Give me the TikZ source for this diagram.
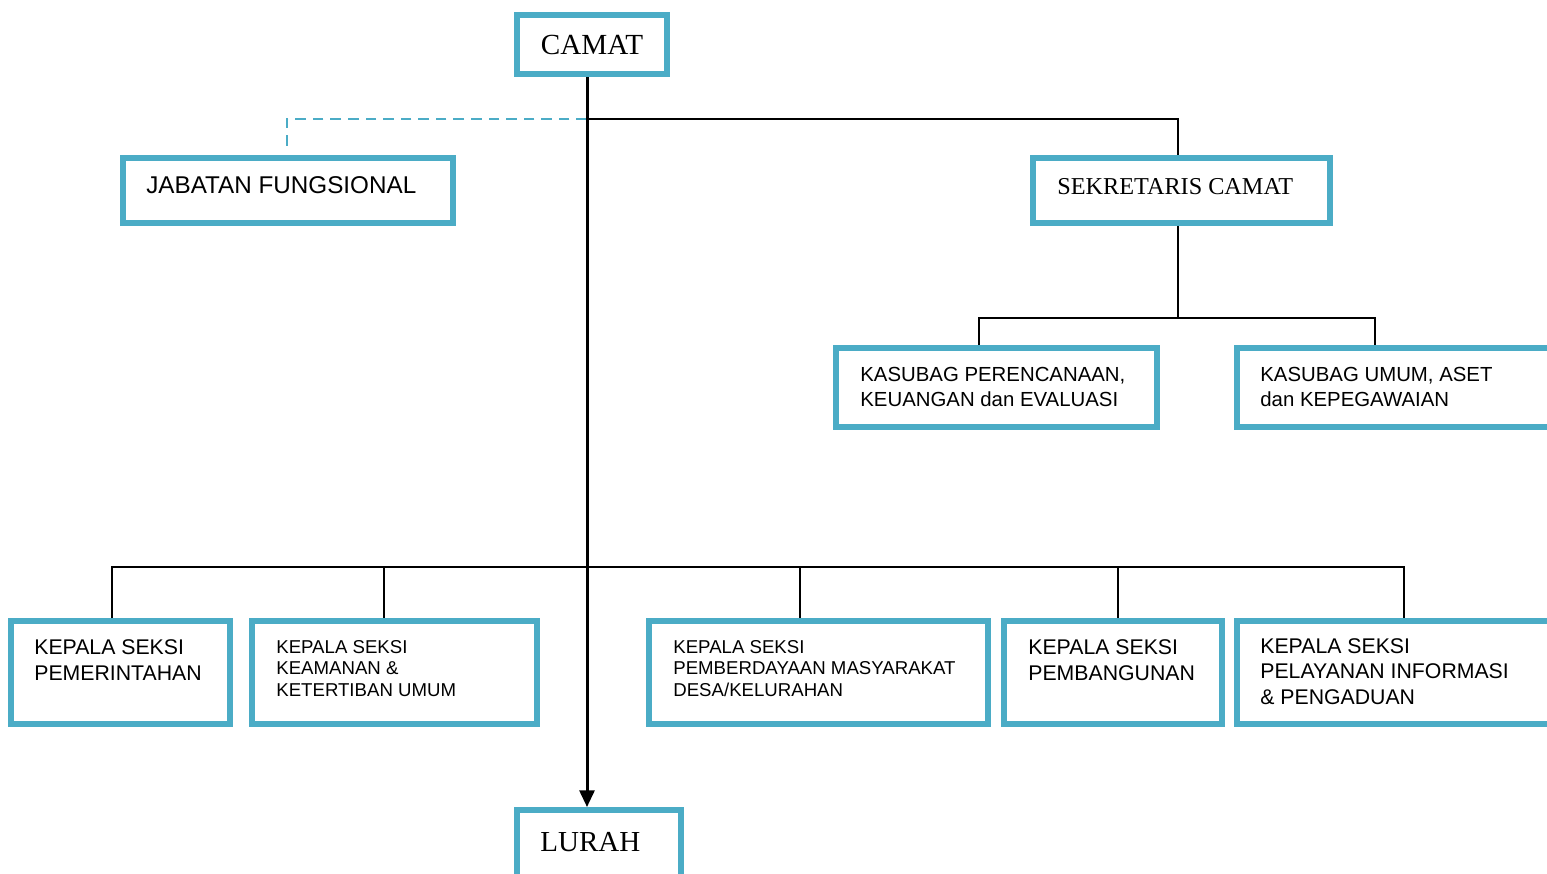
\documentclass[tikz,border=0pt]{standalone}
\usepackage{fontspec}
\setmainfont{Liberation Serif}
\setsansfont{Liberation Sans}
\usetikzlibrary{arrows.meta}
\definecolor{teal}{RGB}{75,172,198}

\begin{document}
\begin{tikzpicture}[x=0.02cm, y=-0.02cm,
	box/.style={draw=teal, line width=3.4pt, fill=white, inner sep=0pt},
	link/.style={line width=1.1pt},
	trunk/.style={line width=1.7pt, -{Triangle[length=9.5pt,width=8.5pt]}},
	dashlink/.style={draw=teal, line width=1.4pt, dash pattern=on 6pt off 4pt},
	mid/.style={font=\sffamily\fontsize{11.6}{13.8}\selectfont, align=left, anchor=base west, inner sep=0pt},
	big/.style={font=\sffamily\fontsize{12.1}{14.4}\selectfont, align=left, anchor=base west, inner sep=0pt},
	small/.style={font=\sffamily\fontsize{10.6}{12.2}\selectfont, align=left, anchor=base west, inner sep=0pt}]

	\clip (0,0) rectangle (1547,873);
	\fill[white] (0,0) rectangle (1547,873);

	\coordinate (j1) at (587,119);
	\coordinate (s1) at (1178,119);
	\coordinate (j2) at (1178,318);
	\coordinate (a1) at (979,318);
	\coordinate (a2) at (1375,318);
	\coordinate (f1) at (287,119);
	\coordinate (f2) at (287,148);
	\coordinate (b1) at (112,567);
	\coordinate (b2) at (384,567);
	\coordinate (b3) at (800,567);
	\coordinate (b4) at (1118,567);
	\coordinate (b5) at (1404,567);

	\node[box, minimum width=3cm, minimum height=1.18cm, font=\fontsize{16.6}{20}\selectfont] (camat) at (592,44.5) {CAMAT};
	\node[box, minimum width=6.6cm, minimum height=1.3cm] (jf) at (288,190.5) {};
	\node[box, minimum width=5.94cm, minimum height=1.3cm] (sek) at (1181.5,190.5) {};
	\node[box, minimum width=6.42cm, minimum height=1.58cm] (kpe) at (996.5,387.5) {};
	\node[box, minimum width=6.46cm, minimum height=1.58cm] (kum) at (1398.5,387.5) {};
	\node[box, minimum width=4.38cm, minimum height=2.06cm] (kpem) at (120.5,672.5) {};
	\node[box, minimum width=5.7cm, minimum height=2.06cm] (kkam) at (394.5,672.5) {};
	\node[box, minimum width=6.78cm, minimum height=2.06cm] (kpmd) at (818.5,672.5) {};
	\node[box, minimum width=4.36cm, minimum height=2.06cm] (kpbg) at (1113,672.5) {};
	\node[box, minimum width=6.46cm, minimum height=2.06cm] (kpel) at (1398.5,672.5) {};
	\node[box, minimum width=3.28cm, minimum height=1.6cm] (lurah) at (599,850) {};

	\node[font=\sffamily\fontsize{13.8}{16}\selectfont, anchor=base west, inner sep=0pt] (tjf) at (146,193) {JABATAN FUNGSIONAL};
	\node[font=\fontsize{13.8}{16}\selectfont, anchor=base west, inner sep=0pt] (tsek) at (1057,194) {SEKRETARIS CAMAT};
	\node[mid] (tkpe) at (860,406) {KASUBAG PERENCANAAN,\\KEUANGAN dan EVALUASI};
	\node[mid] (tkum) at (1260,406) {KASUBAG UMUM, ASET\\dan KEPEGAWAIAN};
	\node[big] (tkpem) at (34,680) {KEPALA SEKSI\\PEMERINTAHAN};
	\node[small] (tkkam) at (276,696) {KEPALA SEKSI\\KEAMANAN \&\\KETERTIBAN UMUM};
	\node[small] (tkpmd) at (673,696) {KEPALA SEKSI\\PEMBERDAYAAN MASYARAKAT\\DESA/KELURAHAN};
	\node[big] (tkpbg) at (1028,680) {KEPALA SEKSI\\PEMBANGUNAN};
	\node[big] (tkpel) at (1260,704) {KEPALA SEKSI\\PELAYANAN INFORMASI\\\& PENGADUAN};
	\node[font=\fontsize{16.5}{20}\selectfont, anchor=base west, inner sep=0pt] (tlurah) at (540,851) {LURAH};

	\draw[dashlink] (j1) -- (f1) -- (f2);
	\draw[link] (j1) -- (s1) -- (s1 |- sek.north);
	\draw[link] (sek.south -| j2) -- (j2);
	\draw[link] (a1 |- kpe.north) -- (a1) -- (a2) -- (a2 |- kum.north);
	\draw[link] (b1 |- kpem.north) -- (b1) -- (b5) -- (b5 |- kpel.north);
	\draw[link] (b2) -- (b2 |- kkam.north);
	\draw[link] (b3) -- (b3 |- kpmd.north);
	\draw[link] (b4) -- (b4 |- kpbg.north);
	\draw[trunk] (camat.south -| j1) -- (lurah.north -| j1);

\end{tikzpicture}
\end{document}
